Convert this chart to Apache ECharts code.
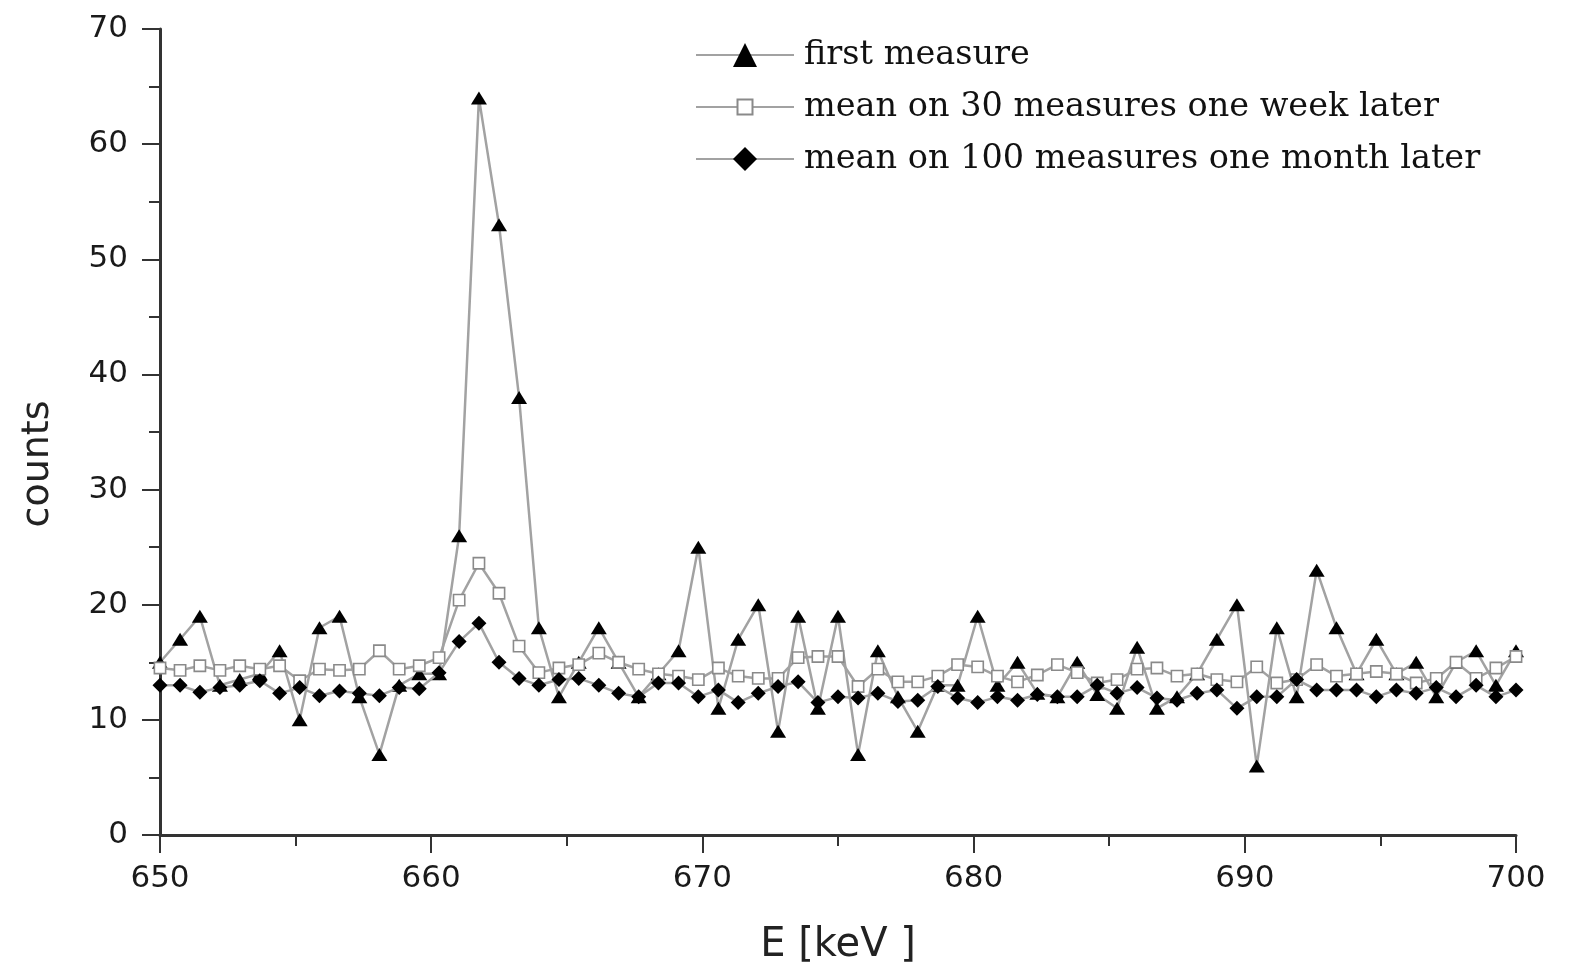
<!DOCTYPE html>
<html>
<head>
<meta charset="utf-8">
<script src="https://cdn.jsdelivr.net/npm/echarts@6/dist/echarts.min.js"></script>
<style>html,body{margin:0;padding:0;background:#fff;}#c{width:1572px;height:970px;}</style>
</head>
<body>
<div id="c"></div>
<script>
const energies = [650.00,650.74,651.47,652.21,652.94,653.68,654.41,655.15,655.88,656.62,657.35,658.09,658.82,659.56,660.29,661.03,661.76,662.50,663.24,663.97,664.71,665.44,666.18,666.91,667.65,668.38,669.12,669.85,670.59,671.32,672.06,672.79,673.53,674.26,675.00,675.74,676.47,677.21,677.94,678.68,679.41,680.15,680.88,681.62,682.35,683.09,683.82,684.56,685.29,686.03,686.76,687.50,688.24,688.97,689.71,690.44,691.18,691.91,692.65,693.38,694.12,694.85,695.59,696.32,697.06,697.79,698.53,699.26,700.00];
const firstMeasure = [15,17,19,13,13.5,14,16,10,18,19,12,7,13,14,14,26,64,53,38,18,12,15,18,15,12,14,16,25,11,17,20,9,19,11,19,7,16,12,9,13,13,19,13,15,12.3,12,15,12.2,11,16.3,11,12,14,17,20,6,18,12,23,18,14,17,14,15,12,15,16,13,16];
const mean30 = [14.5,14.3,14.7,14.3,14.7,14.4,14.7,13.4,14.4,14.3,14.4,16,14.4,14.7,15.4,20.4,23.6,21,16.4,14.1,14.5,14.8,15.8,15,14.4,14,13.8,13.5,14.5,13.8,13.6,13.6,15.4,15.5,15.5,12.9,14.4,13.3,13.3,13.8,14.8,14.6,13.8,13.3,13.9,14.8,14.1,13.2,13.5,14.4,14.5,13.8,14,13.5,13.3,14.6,13.2,13.5,14.8,13.8,14,14.2,14,13.2,13.6,15,13.6,14.5,15.5];
const mean100 = [13,13,12.4,12.8,13,13.4,12.3,12.8,12.1,12.5,12.3,12.1,12.8,12.7,14.1,16.8,18.4,15,13.6,13,13.5,13.6,13,12.3,12,13.2,13.2,12,12.6,11.5,12.3,12.9,13.3,11.5,12,11.9,12.3,11.6,11.7,12.9,11.9,11.5,12,11.7,12.2,12,12,13,12.3,12.8,11.9,11.7,12.3,12.6,11,12,12,13.5,12.6,12.6,12.6,12,12.6,12.3,12.8,12,13,12,12.6];
const seriesNames = ['first measure','mean on 30 measures one week later','mean on 100 measures one month later'];
const yTicks = [0,10,20,30,40,50,60,70];

function pairs(vals){ return vals.map((v,i)=>[energies[i],v]); }

const TRI = 'path://M0,15L12,0L24,15Z';
const SQ = 'path://M0,0M24,24M4.5,4.5L19.5,4.5L19.5,19.5L4.5,19.5Z';

const chart = echarts.init(document.getElementById('c'), null, {renderer:'canvas'});
const lineGray = '#a2a2a2';
const axisColor = '#333';
const labelStyle = {color:'#1a1a1a',fontFamily:'DejaVu Sans',fontSize:31};
chart.setOption({
  animation:false,
  backgroundColor:'#fff',
  grid:{left:160,right:56,top:29,bottom:135,outerBoundsMode:'none'},
  legend:{
    orient:'vertical',left:690,top:30,
    itemWidth:98,itemHeight:30,itemGap:12,
    textStyle:{fontFamily:'DejaVu Serif',fontSize:33.5,color:'#111',lineHeight:40,padding:[0,0,0,5]},
    data:seriesNames
  },
  xAxis:{
    type:'value',min:650,max:700,interval:10,
    name:'E [keV ]',nameLocation:'middle',nameGap:91,nameMoveOverlap:false,
    nameTextStyle:{color:'#222',fontFamily:'DejaVu Sans',fontSize:40},
    axisLine:{show:true,lineStyle:{color:axisColor,width:3}},
    axisTick:{show:true,length:18,lineStyle:{color:axisColor,width:2}},
    minorTick:{show:true,splitNumber:2,length:11,lineStyle:{color:axisColor,width:2}},
    splitLine:{show:false},
    axisLabel:Object.assign({},labelStyle,{margin:28})
  },
  yAxis:{
    type:'value',min:yTicks[0],max:yTicks[yTicks.length-1],interval:10,
    name:'counts',nameLocation:'middle',nameGap:103,nameMoveOverlap:false,
    nameTextStyle:{color:'#222',fontFamily:'DejaVu Sans',fontSize:38,padding:[0,64,0,0]},
    axisLine:{show:true,lineStyle:{color:axisColor,width:3}},
    axisTick:{show:true,length:18,lineStyle:{color:axisColor,width:2}},
    minorTick:{show:true,splitNumber:2,length:11,lineStyle:{color:axisColor,width:2}},
    splitLine:{show:false},
    axisLabel:Object.assign({},labelStyle,{margin:32})
  },
  series:[
    {name:seriesNames[0],type:'line',data:pairs(firstMeasure),symbol:TRI,symbolSize:[16,13],
     lineStyle:{color:lineGray,width:2.5},itemStyle:{color:'#000'},z:2},
    {name:seriesNames[1],type:'line',data:pairs(mean30),symbol:SQ,symbolSize:18,
     lineStyle:{color:lineGray,width:2.5},itemStyle:{color:'#fff',borderColor:'#8a8a8a',borderWidth:1.6},z:3},
    {name:seriesNames[2],type:'line',data:pairs(mean100),symbol:'diamond',symbolSize:15,
     lineStyle:{color:lineGray,width:2.5},itemStyle:{color:'#000'},z:4}
  ]
});
</script>
</body>
</html>
